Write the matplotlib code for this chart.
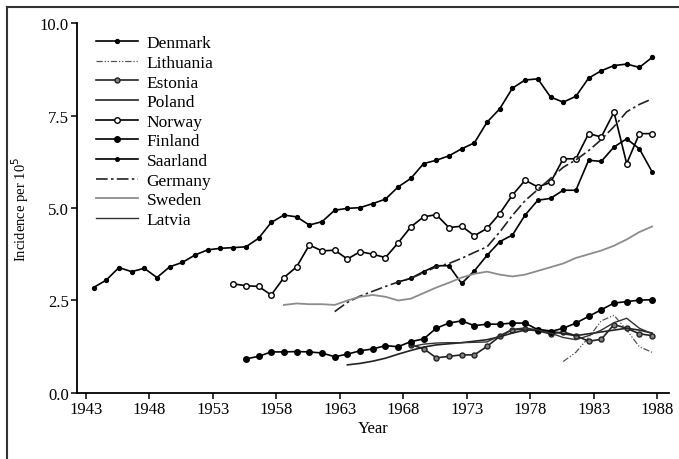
import numpy as np
import matplotlib
matplotlib.use("Agg")
import matplotlib.pyplot as plt
from matplotlib.lines import Line2D

plt.rcParams['font.family'] = ['Liberation Serif', 'DejaVu Serif']

# annual incidence per 10^5
denmark_start = 1943
denmark = [2.85, 3.05, 3.39, 3.28, 3.37, 3.12, 3.41, 3.53, 3.73, 3.87,
           3.91, 3.93, 3.95, 4.18, 4.61, 4.81, 4.76, 4.54, 4.63, 4.94,
           4.99, 5.01, 5.12, 5.24, 5.57, 5.80, 6.20, 6.29, 6.41, 6.60,
           6.76, 7.32, 7.68, 8.24, 8.46, 8.49, 8.00, 7.86, 8.02, 8.51,
           8.71, 8.85, 8.89, 8.80, 9.07]

lithuania_start = 1980
lithuania = [0.85, 1.10, 1.50, 1.95, 2.10, 1.70, 1.25, 1.10]

estonia_start = 1968
estonia = [1.30, 1.20, 0.95, 0.99, 1.03, 1.03, 1.26, 1.53, 1.71, 1.72,
           1.68, 1.60, 1.65, 1.55, 1.40, 1.45, 1.85, 1.75, 1.60, 1.55]

poland_start = 1963
poland = [0.76, 0.80, 0.86, 0.94, 1.05, 1.15, 1.24, 1.30, 1.33, 1.36,
          1.40, 1.44, 1.52, 1.62, 1.70, 1.72, 1.68, 1.60, 1.55, 1.60,
          1.65, 1.70, 1.75, 1.70, 1.62]

norway_start = 1954
norway = [2.95, 2.90, 2.88, 2.65, 3.12, 3.41, 4.00, 3.84, 3.86, 3.62,
          3.82, 3.75, 3.66, 4.06, 4.49, 4.76, 4.82, 4.47, 4.51, 4.25,
          4.45, 4.85, 5.35, 5.75, 5.57, 5.69, 6.33, 6.33, 7.01, 6.92,
          7.59, 6.20, 7.01, 7.01]

finland_start = 1955
finland = [0.92, 0.99, 1.11, 1.11, 1.12, 1.11, 1.08, 0.98, 1.05, 1.14,
           1.19, 1.28, 1.25, 1.39, 1.46, 1.75, 1.89, 1.95, 1.82, 1.86,
           1.86, 1.89, 1.89, 1.71, 1.66, 1.75, 1.89, 2.07, 2.25, 2.43,
           2.47, 2.51, 2.52]

saarland_start = 1967
saarland = [3.00, 3.10, 3.28, 3.44, 3.44, 2.96, 3.30, 3.72, 4.09, 4.27,
            4.81, 5.21, 5.26, 5.48, 5.48, 6.29, 6.26, 6.65, 6.87, 6.60,
            5.98]

germany_start = 1962
germany = [2.20, 2.45, 2.62, 2.75, 2.88, 3.00, 3.10, 3.25, 3.41, 3.50,
           3.64, 3.80, 3.95, 4.35, 4.80, 5.20, 5.50, 5.80, 6.10, 6.30,
           6.55, 6.85, 7.20, 7.60, 7.80, 7.95]

sweden_start = 1958
sweden = [2.38, 2.42, 2.40, 2.40, 2.38, 2.50, 2.60, 2.65, 2.60, 2.50,
          2.55, 2.70, 2.85, 2.98, 3.12, 3.22, 3.28, 3.20, 3.15, 3.20,
          3.30, 3.40, 3.50, 3.65, 3.75, 3.85, 3.98, 4.15, 4.35, 4.50]

latvia_start = 1968
latvia = [1.25, 1.32, 1.35, 1.36, 1.36, 1.37, 1.38, 1.55, 1.72, 1.76,
          1.70, 1.62, 1.50, 1.44, 1.55, 1.70, 1.90, 2.02, 1.75, 1.60]

year_ticks = [1943, 1948, 1953, 1958, 1963, 1968, 1973, 1978, 1983, 1988]
value_ticks = [0.0, 2.5, 5.0, 7.5, 10.0]


def yrs(start, vals):
    # points sit near mid-year
    return np.arange(start, start + len(vals)) + 0.6


fig = plt.figure(figsize=(6.79, 4.6), dpi=100)
ax = fig.add_axes([0.1134, 0.1435, 0.872, 0.8043])

lw = 1.2
ax.plot(yrs(denmark_start, denmark), denmark, '-', color='black', lw=lw,
        marker='o', ms=2.8, label='Denmark')
ax.plot(yrs(lithuania_start, lithuania), lithuania, color='#555555', lw=0.9,
        dashes=[5, 1.5, 1, 1.5, 1, 1.5], label='Lithuania')
ax.plot(yrs(estonia_start, estonia), estonia, '-', color='#222222', lw=lw,
        marker='o', ms=3.6, mfc='#808080', mec='#222222', label='Estonia')
ax.plot(yrs(poland_start, poland), poland, '-', color='#222222', lw=lw,
        label='Poland')
ax.plot(yrs(norway_start, norway), norway, '-', color='black', lw=lw,
        marker='o', ms=4, mfc='white', mec='black', mew=1.0, label='Norway')
ax.plot(yrs(finland_start, finland), finland, '-', color='black', lw=lw,
        marker='o', ms=4, label='Finland')
ax.plot(yrs(saarland_start, saarland), saarland, '-', color='black', lw=lw,
        marker='o', ms=2.6, label='Saarland')
ax.plot(yrs(germany_start, germany), germany, color='#222222', lw=lw,
        dashes=[7, 2, 1.5, 2], label='Germany')
ax.plot(yrs(sweden_start, sweden), sweden, '-', color='#8c8c8c', lw=1.3,
        label='Sweden')
ax.plot(yrs(latvia_start, latvia), latvia, '-', color='#333333', lw=1.0,
        label='Latvia')

ax.set_xlim(1942.3, 1988.94)
ax.set_ylim(0, 10)
ax.set_xticks(year_ticks)
ax.set_yticks(value_ticks)
ax.set_yticklabels(['{:.1f}'.format(v) for v in value_ticks])
ax.tick_params(direction='out', length=4, width=1.1, labelsize=12, pad=2)
for side in ['top', 'right']:
    ax.spines[side].set_visible(False)
for side in ['left', 'bottom']:
    ax.spines[side].set_linewidth(1.3)

ax.set_xlabel('Year', fontsize=12, labelpad=2)
ax.set_ylabel('Incidence per 10$^5$', fontsize=10.5, labelpad=6)

ax.legend(loc='upper left', bbox_to_anchor=(0.012, 1.0), frameon=False,
          fontsize=12.5, handlelength=2.4, handletextpad=0.5,
          labelspacing=0.2, borderaxespad=0.3, numpoints=1)

# frame lines of the scanned figure (top and left)
fig.add_artist(Line2D([0.0103, 1.0], [0.9826, 0.9826], color='#333333',
                      lw=1.5, transform=fig.transFigure))
fig.add_artist(Line2D([0.0103, 0.0103], [0.0, 0.9826], color='#333333',
                      lw=1.5, transform=fig.transFigure))

fig.savefig('out.png', dpi=100)
